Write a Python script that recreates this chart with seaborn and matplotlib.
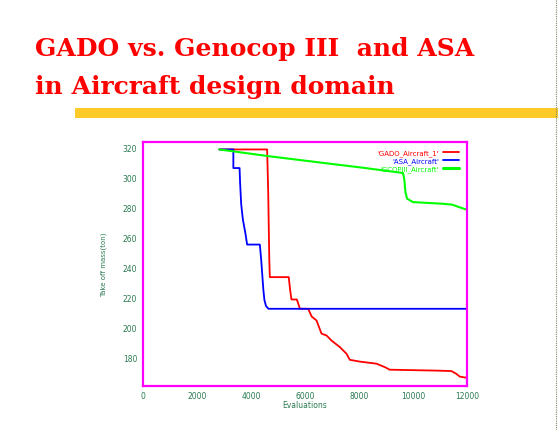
import pandas as pd
import seaborn as sns
import matplotlib.pyplot as plt
from matplotlib.patches import Rectangle
from matplotlib.lines import Line2D

# curves (evaluations, take off mass)
gado_x = [2830, 4600, 4640, 4680, 4700, 5400, 5450, 5500, 5700, 5815, 6120, 6250, 6430, 6520,
          6615, 6800, 6985, 7290, 7540, 7660, 8030, 8650, 8960, 9140, 10860, 11420, 11600, 11730, 12000]
gado_y = [318.4, 318.4, 290, 245, 233.3, 233.3, 225, 218.4, 218.4, 212.2, 212.2, 207, 204.4, 200,
          195.6, 194.4, 191, 186.7, 182.2, 178.2, 177, 175.6, 173.3, 171.6, 171, 170.7, 168.9, 167, 166.2]

asa_x = [2830, 3350, 3350, 3580, 3600, 3640, 3700, 3760, 3800, 3860, 4330, 4380, 4420, 4460,
         4500, 4560, 4650, 12000]
asa_y = [318.4, 318.4, 306, 306, 296, 282, 272, 266, 262, 255, 255, 245, 235, 225,
         218, 214, 212.2, 212.2]

gcop_x = [2830, 4700, 6920, 8150, 9630, 9680, 9720, 9780, 10000, 11110, 11450, 11700, 12000]
gcop_y = [318.4, 313.8, 308.9, 306.2, 302.7, 298, 290, 285.6, 283.3, 282.2, 281.6, 280, 278.2]

names = ["'GADO_Aircraft_1'", "'ASA_Aircraft'", "'GCOPIII_Aircraft'"]
colors = ["#ff0000", "#0000ff", "#00ff00"]

df = pd.concat([
    pd.DataFrame({"Evaluations": gado_x, "mass": gado_y, "run": names[0]}),
    pd.DataFrame({"Evaluations": asa_x, "mass": asa_y, "run": names[1]}),
    pd.DataFrame({"Evaluations": gcop_x, "mass": gcop_y, "run": names[2]}),
])

sns.set_style("white")
tick_col = "#2a7a50"

fig = plt.figure(figsize=(5.58, 4.31), dpi=100)
ax = fig.add_axes([0.256, 0.103, 0.581, 0.565])

for name, col, lw in zip(names, colors, [1.3, 1.3, 1.5]):
    sub = df[df["run"] == name]
    sns.lineplot(data=sub, x="Evaluations", y="mass", ax=ax, color=col, lw=lw,
                 label=name, estimator=None, sort=False)

ax.set_xlim(0, 12000)
ax.set_ylim(161, 323.3)
ax.set_xticks([0, 2000, 4000, 6000, 8000, 10000, 12000])
ax.set_yticks([180, 200, 220, 240, 260, 280, 300, 320])
ax.tick_params(length=0, labelsize=5.5, colors=tick_col, pad=4)
ax.set_xlabel("Evaluations", fontsize=5.5, color=tick_col, labelpad=0)
ax.set_ylabel("Take off mass(ton)", fontsize=5, color=tick_col, labelpad=11)
for s in ax.spines.values():
    s.set_color("#ff00ff")
    s.set_linewidth(1.6)

handles = [Line2D([], [], color=c, lw=1.3 if i < 2 else 2.2) for i, c in enumerate(colors)]
leg = ax.legend(handles, names, loc="upper right", frameon=False, markerfirst=False,
                fontsize=5, labelcolor=colors, handlelength=2.3, handletextpad=0.6,
                labelspacing=0.15, borderaxespad=0.7)

# slide title
title_kw = dict(color="red", fontsize=18, fontweight="bold", family="DejaVu Serif")
fig.text(0.062, 0.870, "GADO vs. Genocop III  and ASA", **title_kw)
fig.text(0.062, 0.782, "in Aircraft design domain", **title_kw)
fig.patches.append(Rectangle((0.135, 0.725), 0.865, 0.023, transform=fig.transFigure,
                             color="#fdca2a", lw=0))
fig.lines.append(Line2D([0.997, 0.997], [0, 1], transform=fig.transFigure,
                        color="#7a8a6a", lw=0.8, ls=(0, (1, 1))))

fig.savefig("out.png", dpi=100)
